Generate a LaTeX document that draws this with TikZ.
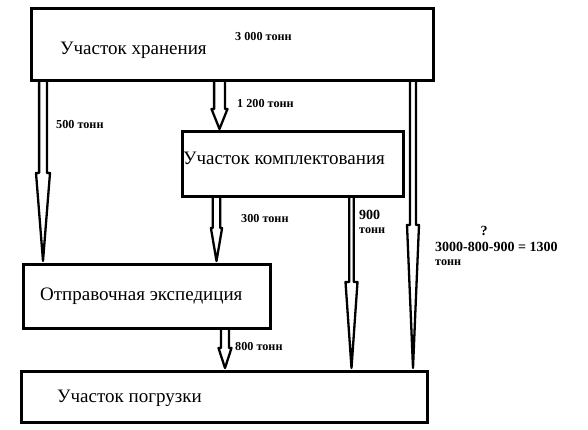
\documentclass[tikz,border=0pt]{standalone}
\usepackage{fontspec}
\setmainfont{Liberation Serif}
\usetikzlibrary{calc}
\tikzset{
  box/.style={draw, line width=3pt, anchor=north west, inner sep=0pt},
  boxtext/.style={anchor=west, inner sep=0pt, font=\fontsize{19}{22}\selectfont},
  lbl/.style={anchor=west, inner sep=0pt, font=\bfseries\fontsize{12.2}{14}\selectfont},
  biglbl/.style={anchor=west, inner sep=0pt, font=\bfseries\fontsize{14}{16}\selectfont},
  blockarrow/.style={draw, line width=2.3pt, line join=round}
}
% #1 start coord, #2 end coord, #3 head length, #4 half shaft width, #5 half head width
\newcommand\hollowarrow[5]{%
  \draw[blockarrow] let \p1=(#1), \p2=(#2) in
    (\x1-#4,\y1) -- (\x1-#4,\y2+#3) -- (\x1-#5,\y2+#3) -- (\x1,\y2)
    -- (\x1+#5,\y2+#3) -- (\x1+#4,\y2+#3) -- (\x1+#4,\y1);}
\begin{document}
\begin{tikzpicture}[x=1pt,y=-1pt]
\fill[white] (0,0) rectangle (588,430);
\useasboundingbox (0,0) rectangle (588,430);

% boxes
\node[box, minimum width=402pt, minimum height=72pt] (stor) at (29.5,7.5) {};
\node[box, minimum width=221pt, minimum height=65pt] (kompl) at (180.5,130) {};
\node[box, minimum width=247pt, minimum height=64pt] (otpr) at (21.5,262.5) {};
\node[box, minimum width=406pt, minimum height=51pt] (pogr) at (19.5,369.5) {};

% box texts
\node[boxtext] (tstor) at (60,50) {Участок хранения};
\node[boxtext] (tkompl) at (183,158) {Участок комплектования};
\node[boxtext] (totpr) at (40,296) {Отправочная экспедиция};
\node[boxtext] (tpogr) at (57,398) {Участок погрузки};

% arrow end points
\coordinate (a1s) at (43,81);   \coordinate (a1e) at (43,261);
\coordinate (a2s) at (219.5,81); \coordinate (a2e) at (219.5,129);
\coordinate (a3s) at (216.5,196); \coordinate (a3e) at (216.5,261);
\coordinate (a4s) at (351.5,196); \coordinate (a4e) at (351.5,368);
\coordinate (a5s) at (413,81);  \coordinate (a5e) at (413,368);
\coordinate (a6s) at (225,328); \coordinate (a6e) at (225,368);

\hollowarrow{a1s}{a1e}{88}{3.9}{7}
\hollowarrow{a2s}{a2e}{20}{5.4}{8}
\hollowarrow{a3s}{a3e}{33}{3.8}{5.6}
\hollowarrow{a4s}{a4e}{86}{2.3}{6}
\hollowarrow{a5s}{a5e}{143}{3}{6}
\hollowarrow{a6s}{a6e}{20}{4}{6.5}

% labels
\node[lbl] (l3000) at (235,37) {3 000 тонн};
\node[lbl] (l1200) at (237,104) {1 200 тонн};
\node[lbl] (l500) at (56,125) {500 тонн};
\node[lbl] (l300) at (241,219) {300 тонн};
\node[biglbl] (l900) at (359,215) {900};
\node[lbl] (l900t) at (359,231) {тонн};
\node[biglbl, anchor=center] (lq) at (484,231) {?};
\node[biglbl] (lcalc) at (435,247) {3000-800-900 = 1300};
\node[lbl] (lcalct) at (435,263) {тонн};
\node[lbl] (l800) at (235,347) {800 тонн};
\end{tikzpicture}
\end{document}
